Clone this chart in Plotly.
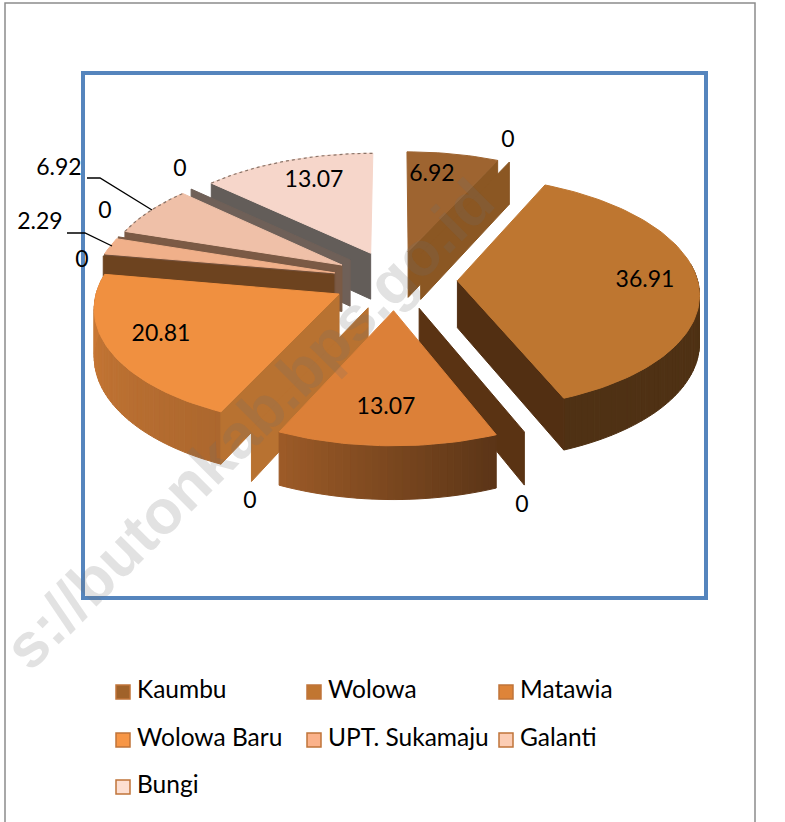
import numpy as np
import plotly.graph_objects as go

########## Data ##########
categories = ["Kaumbu", "", "Wolowa", "", "Matawia", "", "Wolowa Baru", "", "UPT. Sukamaju", "", "Galanti", "", "Bungi"]
values = [6.92, 0, 36.91, 0, 13.07, 0, 20.81, 0, 2.29, 0, 6.92, 0, 13.07]
value_text = ["6.92", "0", "36.91", "0", "13.07", "0", "20.81", "0", "2.29", "0", "6.92", "0", "13.07"]

legend_names = ["Kaumbu", "Wolowa", "Matawia", "Wolowa Baru", "UPT. Sukamaju", "Galanti", "Bungi"]
legend_fill = ["#A0622A", "#C17631", "#DE8439", "#F79646", "#FBB28A", "#FCCDB4", "#FDDFD2"]

########## Style ##########
top_colors = ["#9E6430", "#9E6430", "#BE7630", "#BE7630", "#DC8038", "#DC8038", "#F09040",
              "#F09040", "#F0B08A", "#F0B08A", "#EFC0A8", "#EFC0A8", "#F6D6CA"]
wall_colors = ["#8B5723", "#8B5723", "#522F12", "#5A3313", "#A86428", "#B87231", "#B87231",
               "#6D431F", "#73503A", "#7B5A45", "#7B5A45", "#6F6058", "#635D59"]
label_x = [432, 508, 645, 522, 386, 250, 161, 82, 40, 105, 59, 180, 314]
label_y = [175, 141, 281, 506, 408, 502, 335, 261, 223, 212, 169, 170, 181]

FONT = "Lato"
cx, cy = 395, 280
rx, ry = 240, 115
depth = 47
explode = 0.26
persp = 0.1


def project(x, y, z=0):
    w = 1 / (1 - persp * np.asarray(y))
    return cx + rx * np.asarray(x) * w, cy + ry * np.asarray(y) * w + depth * z * w


def to_hex(color, f):
    c = [int(color[i:i + 2], 16) for i in (1, 3, 5)]
    return "#" + "".join(f"{int(min(255, v * f)):02x}" for v in c)


def rim_shade(deg):
    return float(np.interp(deg, [0, 158, 205, 280, 360], [0.42, 0.42, 0.72, 0.86, 0.86]))


def poly(fig, xs, ys, color):
    fig.add_trace(go.Scatter(
        x=list(xs) + [xs[0]], y=list(ys) + [ys[0]], mode="lines", fill="toself",
        fillcolor=color, line=dict(color=color, width=1), hoverinfo="skip", showlegend=False,
    ))


def radial_wall(fig, a, ox, oy, color):
    ex, ey = ox + np.sin(a), oy - np.cos(a)
    x0, y0 = project(ox, oy)
    x1, y1 = project(ex, ey)
    x2, y2 = project(ex, ey, 1)
    x3, y3 = project(ox, oy, 1)
    poly(fig, [x0, x1, x2, x3], [y0, y1, y2, y3], color)


def draw_slice(fig, start, end, i):
    mid = (start + end) / 2
    ox, oy = explode * np.sin(mid), -explode * np.cos(mid)
    if end - start < 1e-6:
        radial_wall(fig, start, ox, oy, wall_colors[i])
        return

    theta = np.linspace(start, end, max(int(np.degrees(end - start) / 1.5), 3))
    rim_x, rim_y = ox + np.sin(theta), oy - np.cos(theta)

    for j in range(len(theta) - 1):
        if -np.cos((theta[j] + theta[j + 1]) / 2) < -0.15:
            continue
        xa, ya = project(rim_x[j:j + 2], rim_y[j:j + 2])
        xb, yb = project(rim_x[j:j + 2], rim_y[j:j + 2], 1)
        shade = to_hex(top_colors[i], rim_shade(np.degrees(theta[j])))
        poly(fig, [xa[0], xa[1], xb[1], xb[0]], [ya[0], ya[1], yb[1], yb[0]], shade)

    # only the radial faces turned to the viewer get drawn
    if np.sin(start) < 0:
        radial_wall(fig, start, ox, oy, wall_colors[i])
    if np.sin(end) > 0:
        radial_wall(fig, end, ox, oy, wall_colors[i])

    px, py = project(rim_x, rim_y)
    ax, ay = project(ox, oy)
    poly(fig, [float(ax)] + list(px), [float(ay)] + list(py), top_colors[i])

    # pale slices have a dotted rim in the original
    if i >= 10:
        fig.add_trace(go.Scatter(x=px, y=py, mode="lines", line=dict(color="#8A7468", width=1.2, dash="dot"),
                                 hoverinfo="skip", showlegend=False))


fig = go.Figure()

########## Pie ##########
shares = np.array(values) / sum(values) * 2 * np.pi
ends = np.cumsum(shares)
starts = ends - shares
# paint from the back of the pie to the front
order = sorted(range(len(values)),
               key=lambda k: -abs(np.degrees((starts[k] + ends[k]) / 2) - 180))
for i in order:
    draw_slice(fig, starts[i], ends[i], i)

########## Labels ##########
fig.add_trace(go.Scatter(
    x=label_x, y=label_y, text=value_text, mode="text", textposition="middle center",
    textfont=dict(family=FONT, size=23, color="black"), hoverinfo="skip", showlegend=False,
))

# leader lines for the two outside labels
fig.add_trace(go.Scatter(x=[87, 100, 152], y=[178, 178, 210], mode="lines",
                         line=dict(color="black", width=1.3), hoverinfo="skip", showlegend=False))
fig.add_trace(go.Scatter(x=[67, 85, 112], y=[233, 233, 246], mode="lines",
                         line=dict(color="black", width=1.3), hoverinfo="skip", showlegend=False))

########## Legend ##########
legend_x = [123, 314, 506, 123, 314, 506, 123]
legend_y = [692, 692, 692, 740, 740, 740, 787]
fig.add_trace(go.Scatter(
    x=legend_x, y=legend_y, mode="markers",
    marker=dict(symbol="square", size=14, color=legend_fill, line=dict(color="#C0743A", width=1.5)),
    hoverinfo="skip", showlegend=False,
))
fig.add_trace(go.Scatter(
    x=[v + 14 for v in legend_x], y=legend_y, text=legend_names, mode="text",
    textposition="middle right", textfont=dict(family=FONT, size=24.5, color="black"),
    hoverinfo="skip", showlegend=False,
))

fig.update_layout(
    width=785, height=822, margin=dict(l=0, r=0, t=0, b=0),
    paper_bgcolor="white", plot_bgcolor="white", showlegend=False,
    xaxis=dict(range=[0, 785], visible=False, fixedrange=True),
    yaxis=dict(range=[822, 0], visible=False, fixedrange=True),
    shapes=[
        dict(type="rect", x0=5, y0=3, x1=755, y1=830, line=dict(color="#8C8C8C", width=1.5), layer="below"),
        dict(type="rect", x0=83, y0=73, x1=706, y1=598, line=dict(color="#5585BD", width=4), layer="below"),
    ],
    annotations=[dict(
        text="<b>s://butonkab.bps.go.id</b>", x=248, y=424, xref="x", yref="y", showarrow=False,
        textangle=-45, font=dict(family="Liberation Sans", size=62, color="rgba(110,110,110,0.2)"),
    )],
)

# the page's default body margin would push the chart 8px in
fig.write_html("out.html", config={"displayModeBar": False},
               post_script="document.body.style.margin='0';document.body.style.overflow='hidden';")
